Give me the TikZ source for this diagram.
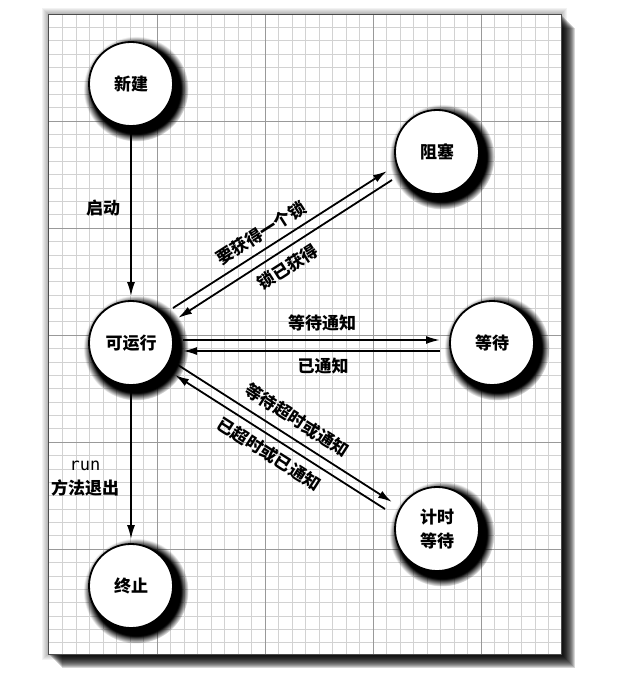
\documentclass[tikz,border=0pt]{standalone}
\usepackage{fontspec}
\setmainfont{Noto Sans CJK SC}
\setmonofont{DejaVu Sans Mono}
\usetikzlibrary{positioning,shadows,arrows.meta}

\begin{document}
\begin{tikzpicture}[
	x=1pt, y=-1pt,
	node distance=100pt, on grid,
	state/.style={circle, draw=black, line width=1.8pt, fill=white, minimum size=84pt, inner sep=0pt, align=center, font=\fontsize{17}{24}\selectfont\bfseries, circular drop shadow={shadow xshift=4pt, shadow yshift=-4pt, shadow scale=1.25, opacity=1, fill=black}},
	lbl/.style={inner sep=1pt, align=center, font=\fontsize{17}{24}\selectfont\bfseries},
	trans/.style={line width=1.8pt, -{Latex[length=14pt, width=8pt]}},
	minorline/.style={gray!35, line width=0.5pt},
	majorline/.style={gray!80, line width=0.8pt}
	]

	\useasboundingbox (0,0) rectangle (617,687);

	% sheet of squared paper
	\foreach \d in {1,...,6}
		\fill [black, opacity=0.05] ({48-\d},{14-\d}) rectangle ({561+\d},{654+\d});
	\foreach \d in {1,...,14}
		\fill [black, opacity=0.16] ({48+\d},{14+\d}) rectangle ({561+\d},{654+\d});
	\fill [white] (48,14) rectangle (561,654);
	\foreach \k in {1,...,37}
		\draw [minorline] ({49+13.5*\k},14) -- ({49+13.5*\k},654);
	\foreach \k in {1,...,47}
		\draw [minorline] (48,{14+13.375*\k}) -- (561,{14+13.375*\k});
	\foreach \k in {1,...,4}
		\draw [majorline] ({49+108*\k},14) -- ({49+108*\k},654);
	\foreach \k in {1,...,5}
		\draw [majorline] (48,{14+107*\k}) -- (561,{14+107*\k});
	\draw [black!70, line width=0.8pt] (48,14) rectangle (561,654);

	\node (new) [state] at (131,84) {新建};
	\node (runnable) [state, below=259pt of new] {可运行};
	\node (terminated) [state, below=243pt of runnable] {终止};
	\node (waiting) [state, right=361pt of runnable] {等待};
	\node (blocked) [state, above left=191pt and 55pt of waiting] {阻塞};
	\node (timedwait) [state, below left=186pt and 55pt of waiting] {计时\\等待};

	\node (lstart) [lbl] at (103,208) {启动};
	\node (lrun) [lbl] at (85,479) {{\ttfamily\mdseries run}\\方法退出};
	\node (lacquire) [lbl, rotate=32.6] at (261,233) {要获得一个锁};
	\node (lacquired) [lbl, rotate=32.6] at (288,267) {锁已获得};
	\node (lwait) [lbl] at (322,323) {等待通知};
	\node (lnotified) [lbl] at (323,366) {已通知};
	\node (ltimed) [lbl, rotate=-32.6] at (297,420) {等待超时或通知};
	\node (ltimedout) [lbl, rotate=-32.6] at (269,454) {已超时或已通知};

	\draw [trans, shorten <=6pt, shorten >=4pt] (new.south) -- (runnable.north);
	\draw [trans, shorten <=4pt, shorten >=4pt] (runnable.south) -- (terminated.north);

	\draw [trans] ([shift={(42,-35)}]runnable.center) -- ([shift={(-50,19)}]blocked.center);
	\draw [trans] ([shift={(-45,28)}]blocked.center) -- ([shift={(47,-25)}]runnable.center);

	\draw [trans] ([shift={(52,-3)}]runnable.center) -- ([shift={(-52,-3)}]waiting.center);
	\draw [trans] ([shift={(-52,8)}]waiting.center) -- ([shift={(52,8)}]runnable.center);

	\draw [trans] ([shift={(47,22)}]runnable.center) -- ([shift={(-45,-27)}]timedwait.center);
	\draw [trans] ([shift={(-52,-20)}]timedwait.center) -- ([shift={(44,32)}]runnable.center);

\end{tikzpicture}
\end{document}
